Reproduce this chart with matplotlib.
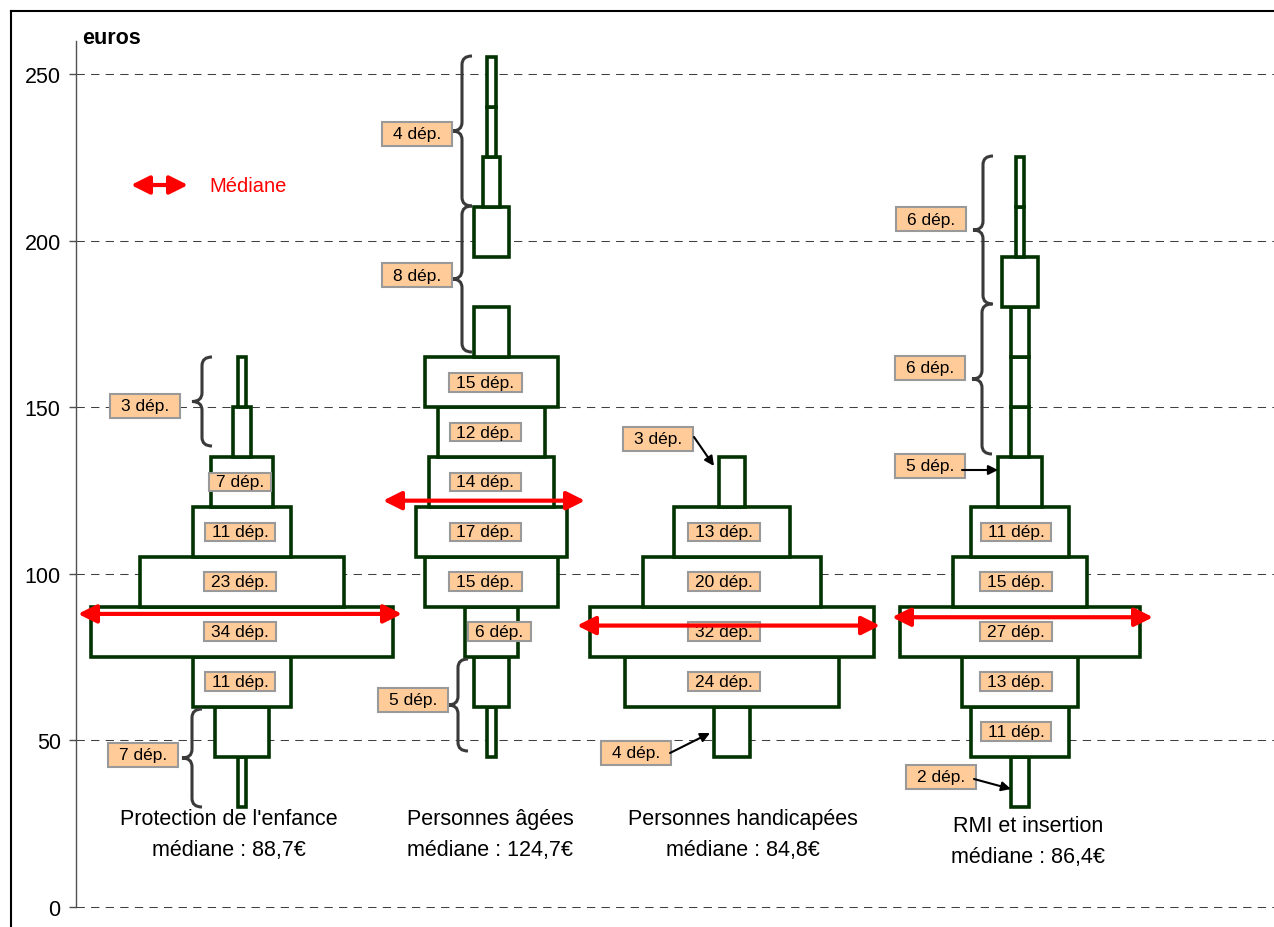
import numpy as np
import matplotlib
matplotlib.use('Agg')
import matplotlib.pyplot as plt
from matplotlib.path import Path
from matplotlib.patches import PathPatch
from matplotlib.lines import Line2D

plt.rcParams['font.family'] = ['Liberation Sans', 'DejaVu Sans']

# --- data: number of départements per 15-euro band ---
categories = ["Protection de l'enfance", "Personnes âgées", "Personnes handicapées", "RMI et insertion"]
medians = [88.7, 124.7, 84.8, 86.4]
# where the red median arrows sit on the picture (euros)
median_arrow_y = [87.9, 121.9, 84.4, 86.9]
band_width = 15

enfance_start = [30, 45, 60, 75, 90, 105, 120, 135, 150]
enfance_count = [1, 6, 11, 34, 23, 11, 7, 2, 1]

agees_start = [45, 60, 75, 90, 105, 120, 135, 150, 165, 180, 195, 210, 225, 240]
agees_count = [1, 4, 6, 15, 17, 14, 12, 15, 4, 0, 4, 2, 1, 1]

handi_start = [45, 60, 75, 90, 105, 120]
handi_count = [4, 24, 32, 20, 13, 3]

rmi_start = [30, 45, 60, 75, 90, 105, 120, 135, 150, 165, 180, 195, 210]
rmi_count = [2, 11, 13, 27, 15, 11, 5, 2, 2, 2, 4, 1, 1]

starts = [enfance_start, agees_start, handi_start, rmi_start]
counts = [enfance_count, agees_count, handi_count, rmi_count]

# bands grouped under one outside label: (group, low, high)
grouped_bands = [(0, 30, 60), (0, 135, 165),
                 (1, 45, 75), (1, 165, 210), (1, 210, 255),
                 (2, 45, 60), (2, 120, 135),
                 (3, 30, 45), (3, 120, 135), (3, 135, 180), (3, 180, 225)]

# --- layout ---
W, H = 1274, 928
Y0_PX, PX_PER_EUR = 907.7, 3.331
DEP_W = 8.9
centers = [242, 491.5, 732, 1020]
label_dx = [-2, -6, -8, -4]
GREEN = '#003300'


def py(px):
    return (Y0_PX - px) / PX_PER_EUR


fig = plt.figure(figsize=(W / 100, H / 100), dpi=100)
ax = fig.add_axes([76 / W, (H - Y0_PX) / H, (W - 76) / W, (Y0_PX - 42) / H])
ax.set_xlim(76, W)
ax.set_ylim(0, py(42))

for s in ['top', 'right', 'bottom']:
    ax.spines[s].set_visible(False)
ax.spines['left'].set_color('#505050')
ax.spines['left'].set_linewidth(1)
ax.set_xticks([])
ax.set_yticks(range(0, 251, 50))
ax.tick_params(axis='y', length=5, width=1, color='#505050', labelsize=15.5, pad=6)
ax.yaxis.grid(True, color='#404040', lw=0.75, linestyle=(0, (8, 6)))
for gl in ax.get_ygridlines():
    gl.set_clip_on(False)
ax.set_axisbelow(True)

ax.text(82, py(38), 'euros', fontsize=15.5, fontweight='bold', va='center', ha='left', clip_on=False)

# frame of the whole figure
fig.add_artist(Line2D([11 / W, 1], [1 - 12 / H, 1 - 12 / H], color='black', lw=1.5))
fig.add_artist(Line2D([11 / W, 11 / W], [1 - 12 / H, 0], color='black', lw=1.5))

inside_box = dict(boxstyle='square,pad=0.4', fc='#FFCC99', ec='#999999', lw=1.5, mutation_aspect=0.28)
outside_box = dict(boxstyle='square,pad=0.6', fc='#FFCC99', ec='#999999', lw=1.5, mutation_aspect=0.4)

# bars
for g in range(4):
    st = np.array(starts[g])
    ct = np.array(counts[g])
    keep = ct > 0
    ax.bar(np.full(keep.sum(), centers[g]), band_width, width=ct[keep] * DEP_W, bottom=st[keep],
           facecolor='white', edgecolor=GREEN, linewidth=2.6, zorder=2)
    for s, c in zip(st, ct):
        if any(gg == g and lo <= s < hi for gg, lo, hi in grouped_bands):
            continue
        dx = label_dx[g] + (14 if c == 6 and g == 1 else 0)
        ax.text(centers[g] + dx, s + band_width / 2, f'{c} dép.', fontsize=12.5, ha='center', va='center',
                bbox=inside_box, zorder=3)


def group_total(g, lo, hi):
    return sum(c for s, c in zip(starts[g], counts[g]) if lo <= s < hi)


def brace(x_tip, y0, y1, w=20, r=2.6):
    xs, xe, ym = x_tip + w / 2, x_tip + w, (y0 + y1) / 2
    verts = [(xe, y1), (xs, y1), (xs, y1 - r), (xs, ym + r), (xs, ym), (x_tip, ym),
             (xs, ym), (xs, ym - r), (xs, y0 + r), (xs, y0), (xe, y0)]
    codes = [Path.MOVETO, Path.CURVE3, Path.CURVE3, Path.LINETO, Path.CURVE3, Path.CURVE3,
             Path.CURVE3, Path.CURVE3, Path.LINETO, Path.CURVE3, Path.CURVE3]
    ax.add_patch(PathPatch(Path(verts, codes), fill=False, ec='#3a3a3a', lw=2.2, zorder=3))


def outside_label(x, y, text):
    ax.text(x, y, text, fontsize=12.5, ha='center', va='center', bbox=outside_box, zorder=4)


def pointer(x0, y0, x1, y1):
    ax.annotate('', xy=(x1, y1), xytext=(x0, y0),
                arrowprops=dict(arrowstyle='-|>', color='black', lw=1.5, mutation_scale=14,
                                shrinkA=0, shrinkB=0), zorder=4)


# braces and outside labels
# (group, low, high, label x, label y px, brace tip x, brace low px, brace high px)
brace_specs = [(0, 135, 165, 145, 407, 192, 447, 358),
               (0, 30, 60, 143, 756, 182, 808, 710),
               (1, 210, 255, 417, 135, 452, 207, 57),
               (1, 165, 210, 417, 276, 452, 353, 207),
               (1, 45, 75, 413, 701, 448, 752, 660),
               (3, 180, 225, 931, 220, 973, 305, 157),
               (3, 135, 180, 930, 369, 972, 455, 305)]
for g, lo, hi, lx, ly, tx, b0, b1 in brace_specs:
    outside_label(lx, py(ly), f'{group_total(g, lo, hi)} dép.')
    brace(tx, py(b0), py(b1))

# arrowed outside labels: (group, low, high, label x, label y px, from, to)
arrow_specs = [(2, 120, 135, 658, 440, (694, 438), (714, 467)),
               (2, 45, 60, 636, 754, (670, 754), (710, 734)),
               (3, 120, 135, 930, 467, (962, 471), (998, 471)),
               (3, 30, 45, 941, 778, (974, 780), (1011, 790))]
for g, lo, hi, lx, ly, p0, p1 in arrow_specs:
    outside_label(lx, py(ly), f'{group_total(g, lo, hi)} dép.')
    pointer(p0[0], py(p0[1]), p1[0], py(p1[1]))

# median arrows
median_span = [(78, 402), (383, 585), (577, 880), (892, 1153)]


def red_arrow(x0, x1, y):
    ax.annotate('', xy=(x1, y), xytext=(x0, y),
                arrowprops=dict(arrowstyle='<|-|>,head_length=0.5,head_width=0.25', color='#FF0000',
                                lw=3, mutation_scale=22, shrinkA=0, shrinkB=0), zorder=5)


for (x0, x1), y in zip(median_span, median_arrow_y):
    red_arrow(x0, x1, y)

# legend
red_arrow(131, 188, py(186))
ax.text(209, py(186), 'Médiane', color='#FF0000', fontsize=14.5, va='center', ha='left')

# category labels
name_y = [820, 820, 820, 827]
cat_x = [229, 490, 743, 1028]
for name, m, x, y in zip(categories, medians, cat_x, name_y):
    ax.text(x, py(y), name, fontsize=15.5, ha='center', va='center')
    ax.text(x, py(y + 31), f'médiane : {m:.1f}€'.replace('.', ','), fontsize=15.5, ha='center', va='center')

fig.savefig('out.png', dpi=100)
